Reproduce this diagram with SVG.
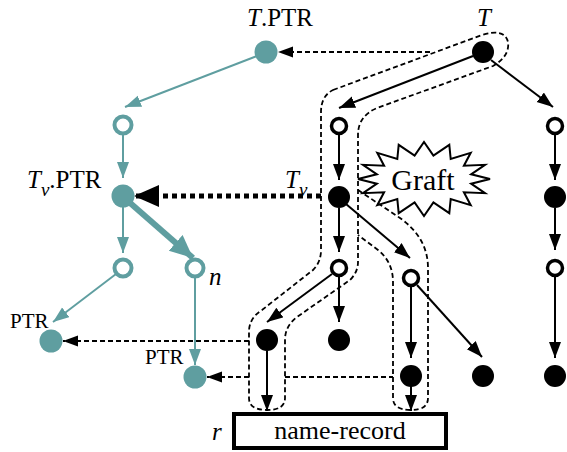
<svg xmlns="http://www.w3.org/2000/svg" width="567" height="452" viewBox="0 0 567 452">
<style>
.t{font-family:"Liberation Serif","Times New Roman",serif;fill:#000}
.i{font-style:italic}
.bl{stroke:#000;stroke-width:2;fill:none}
.tl{stroke:#5f9ea0;stroke-width:2;fill:none}
.tk{stroke:#5f9ea0;stroke-width:6;fill:none}
.fb{fill:#000}
.hb{fill:#fff;stroke:#000;stroke-width:3.5}
.ft{fill:#5f9ea0}
.ht{fill:#fff;stroke:#5f9ea0;stroke-width:4}
.ds{stroke:#000;stroke-width:1.8;fill:none;stroke-dasharray:5 3}
.ls{stroke:#000;stroke-width:1.8;fill:none;stroke-dasharray:5 3}
</style>
<defs>
<marker id="ab" markerUnits="userSpaceOnUse" markerWidth="17" markerHeight="13" refX="16" refY="6" orient="auto"><path d="M0,0 L16,6 L0,12 z" fill="#000"/></marker>
<marker id="at" markerUnits="userSpaceOnUse" markerWidth="17" markerHeight="13" refX="16" refY="6" orient="auto"><path d="M0,0 L16,6 L0,12 z" fill="#5f9ea0"/></marker>
<marker id="atk" markerUnits="userSpaceOnUse" markerWidth="24" markerHeight="22" refX="23" refY="10.5" orient="auto"><path d="M0,0 L23,10.5 L0,21 z" fill="#5f9ea0"/></marker>
<marker id="ad" markerUnits="userSpaceOnUse" markerWidth="16" markerHeight="12" refX="15" refY="5.5" orient="auto"><path d="M0,0 L15,5.5 L0,11 z" fill="#000"/></marker>
<marker id="abig" markerUnits="userSpaceOnUse" markerWidth="26" markerHeight="23" refX="25" refY="11" orient="auto"><path d="M0,0 L25,11 L0,22 z" fill="#000"/></marker>
</defs>

<g id="lassos">
<path class="ls" d="M333,90 L482,35 Q505,28 508,42 Q510,56 493,66 L377,108 Q358,116 358,135 L358,262 Q358,272 350,280 L297,317 Q285,326 285,340 L285,398 Q285,410 267,410 Q249,410 249,398 L249,332 Q249,318 262,310 L313,270 Q321,262 321,250 L321,112 Q321,96 333,90 Z"/>
<path class="ls" d="M358,190 L400,218 Q428,238 428,268 L428,398 Q428,410 411,410 Q393,410 393,398 L393,282 Q393,262 378,250 L358,235"/>
</g>

<g id="connectors">
<line class="ds" x1="430" y1="52" x2="278" y2="52" marker-end="url(#ad)"/>
<line x1="321" y1="196" x2="134" y2="196" stroke="#000" stroke-width="5" stroke-dasharray="5 4" marker-end="url(#abig)"/>
<line class="ds" x1="249" y1="341" x2="63" y2="341" marker-end="url(#ad)"/>
<line class="ds" x1="249" y1="377" x2="207" y2="377" marker-end="url(#ad)"/>
<line class="ds" x1="285" y1="377" x2="393" y2="377"/>

<line class="tl" x1="257" y1="56" x2="125" y2="107" marker-end="url(#at)"/>
<line class="tl" x1="123" y1="134" x2="123" y2="178" marker-end="url(#at)"/>
<line class="tl" x1="123" y1="207" x2="123" y2="253" marker-end="url(#at)"/>
<line class="tk" x1="129" y1="202" x2="193" y2="258" marker-end="url(#atk)"/>
<line class="tl" x1="116" y1="274" x2="53" y2="322" marker-end="url(#at)"/>
<line class="tl" x1="195" y1="277" x2="195" y2="365" marker-end="url(#at)"/>

<line class="bl" x1="473" y1="56" x2="339" y2="108" marker-end="url(#ab)"/>
<line class="bl" x1="491" y1="60" x2="553" y2="107" marker-end="url(#ab)"/>
<line class="bl" x1="339" y1="134" x2="339" y2="180" marker-end="url(#ab)"/>
<line class="bl" x1="555" y1="134" x2="555" y2="180" marker-end="url(#ab)"/>
<line class="bl" x1="339" y1="208" x2="339" y2="252" marker-end="url(#ab)"/>
<line class="bl" x1="346" y1="204" x2="410" y2="258" marker-end="url(#ab)"/>
<line class="bl" x1="555" y1="208" x2="555" y2="250" marker-end="url(#ab)"/>
<line class="bl" x1="332" y1="274" x2="267" y2="322" marker-end="url(#ab)"/>
<line class="bl" x1="339" y1="277" x2="339" y2="322" marker-end="url(#ab)"/>
<line class="bl" x1="411" y1="287" x2="411" y2="358" marker-end="url(#ab)"/>
<line class="bl" x1="417" y1="285" x2="482" y2="357" marker-end="url(#ab)"/>
<line class="bl" x1="555" y1="277" x2="555" y2="358" marker-end="url(#ab)"/>
<line class="bl" x1="267" y1="351" x2="267" y2="411" marker-end="url(#ab)"/>
<line class="bl" x1="411" y1="380" x2="411" y2="411" marker-end="url(#ab)"/>
</g>

<g id="graft">
<polygon points="490,179 471.1,183.7 485,193.2 463.9,192.3 470.7,205.2 450.7,199 449.3,213.2 433.4,202.5 424,216 414.6,202.5 398.7,213.2 397.3,199 377.3,205.2 384.1,192.3 363,193.2 376.9,183.7 358,179 376.9,174.3 363,164.8 384.1,165.7 377.3,152.8 397.3,159 398.7,144.8 414.6,155.5 424,142 433.4,155.5 449.3,144.8 450.7,159 470.7,152.8 463.9,165.7 485,164.8 471.1,174.3" fill="#fff" stroke="#000" stroke-width="2"/>
<text class="t" x="423" y="190" font-size="30" text-anchor="middle">Graft</text>
</g>

<g id="T"><circle class="fb" cx="483" cy="52" r="11"/><text class="t i" x="477" y="26" font-size="25">T</text></g>
<g id="a1"><circle class="hb" cx="339" cy="126" r="7.5"/></g>
<g id="a2"><circle class="hb" cx="555" cy="126" r="7.5"/></g>
<g id="Tv"><circle class="fb" cx="339" cy="197" r="11"/><text class="t" x="285" y="188" font-size="25"><tspan class="i">T</tspan><tspan class="i" font-size="19" dy="8">v</tspan></text></g>
<g id="b2"><circle class="fb" cx="555" cy="197" r="11"/></g>
<g id="c1"><circle class="hb" cx="339" cy="268" r="7.5"/></g>
<g id="c2"><circle class="hb" cx="411" cy="278" r="7.5"/></g>
<g id="c3"><circle class="hb" cx="555" cy="268" r="7.5"/></g>
<g id="d1"><circle class="fb" cx="267" cy="340" r="11"/></g>
<g id="d2"><circle class="fb" cx="339" cy="340" r="11"/></g>
<g id="d3"><circle class="fb" cx="411" cy="376" r="11"/></g>
<g id="d4"><circle class="fb" cx="483" cy="376" r="11"/></g>
<g id="d5"><circle class="fb" cx="555" cy="376" r="11"/></g>

<g id="TPTR"><circle class="ft" cx="266" cy="52" r="11.5"/><text class="t" x="247" y="26" font-size="25"><tspan class="i">T</tspan>.PTR</text></g>
<g id="p1"><circle class="ht" cx="123" cy="125" r="8.5"/></g>
<g id="TvPTR"><circle class="ft" cx="123" cy="196" r="11.5"/><text class="t" x="27" y="188" font-size="25"><tspan class="i">T</tspan><tspan class="i" font-size="19" dy="8">v</tspan><tspan dy="-8">.PTR</tspan></text></g>
<g id="p3"><circle class="ht" cx="123" cy="268" r="8.5"/></g>
<g id="n"><circle class="ht" cx="195" cy="268" r="8.5"/><text class="t i" x="209" y="285" font-size="25">n</text></g>
<g id="PTR1"><circle class="ft" cx="51" cy="341" r="11.5"/><text class="t" x="10" y="328" font-size="21">PTR</text></g>
<g id="PTR2"><circle class="ft" cx="195" cy="377" r="11.5"/><text class="t" x="145" y="364" font-size="21">PTR</text></g>

<g id="record"><rect x="234" y="414" width="212" height="34" fill="#fff" stroke="#000" stroke-width="4"/><text class="t" x="340" y="439" font-size="26" text-anchor="middle">name-record</text><text class="t i" x="212" y="440" font-size="25">r</text></g>
</svg>
